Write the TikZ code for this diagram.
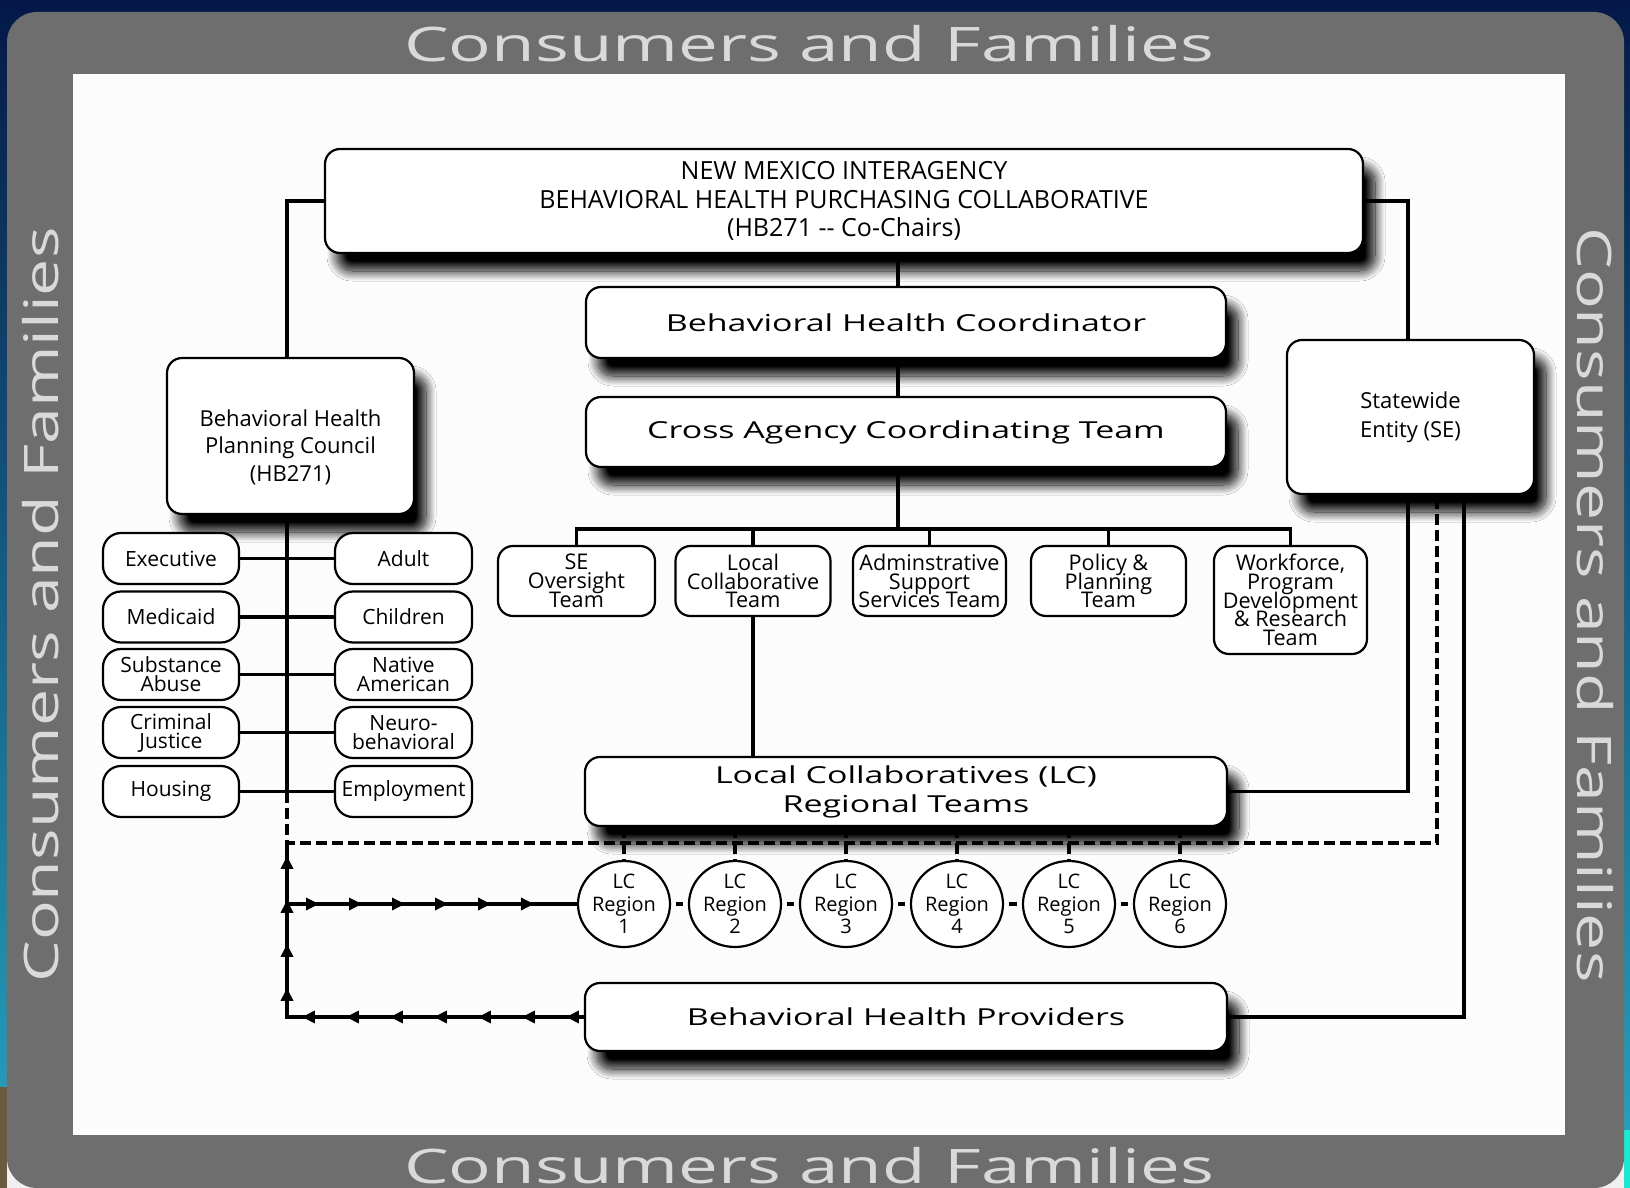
\documentclass[tikz,border=0pt]{standalone}
\usepackage{fontspec}
\setmainfont{Open Sans}
\usetikzlibrary{shapes.geometric,shadows.blur,decorations.markings,arrows.meta}

\definecolor{framegray}{HTML}{6E6E6E}
\definecolor{framelabel}{HTML}{D9D9D9}
\definecolor{paper}{HTML}{FCFCFC}
\definecolor{navytop}{HTML}{041848}
\definecolor{navymid}{HTML}{0A36A0}
\definecolor{teallow}{HTML}{26A6C2}
\definecolor{groundbrown}{HTML}{6B5A3E}
\definecolor{aqua}{HTML}{10F0D0}

% horizontally stretched lettering used for the main titles
\newcommand\widetxt[1]{\scalebox{1.45}[1]{#1}}
% fixed, tight line spacing for stacked labels
\newcommand\tightlines[2]{\fontsize{#1}{#2}\selectfont\lineskiplimit=-20pt\lineskip=0pt}

\begin{document}
\begin{tikzpicture}[x=0.5pt,y=-0.5pt,
  box/.style={draw, line width=1.1pt, fill=white, rounded corners=7.5pt,
    align=center, inner sep=0pt},
  shadowed/.style={blur shadow={shadow xshift=6pt, shadow yshift=-9pt,
    shadow blur radius=5pt, shadow opacity=100, shadow blur steps=20}},
  widefont/.style={font=\tightlines{11.7}{14.5}},
  plain/.style={inner sep=0pt, align=center},
  teambox/.style={box, minimum height=35pt, font=\tightlines{10.8}{9.4}},
  pill/.style={box, rounded corners=9pt, minimum height=25.5pt,
    font=\tightlines{10.5}{9.5}},
  region/.style={draw, line width=1.1pt, fill=white, ellipse, minimum width=46pt,
    minimum height=43pt, inner sep=0pt, align=center,
    font=\tightlines{10}{11.2}},
  framelabel/.style={text=framelabel, inner sep=0pt,
    font=\fontsize{23.8}{24}\selectfont},
  link/.style={line width=1.7pt},
  dashlink/.style={line width=1.7pt, dash pattern=on 5.5pt off 2.5pt},
  flowup/.style={link, postaction=decorate, decoration={markings,
    mark=between positions 9pt and 236pt step 22pt with
      {\arrow{Triangle[length=6.5pt,width=6pt]}}}},
  flowright/.style={link, postaction=decorate, decoration={markings,
    mark=between positions 16pt and 145pt step 21.5pt with
      {\arrow{Triangle[length=6.5pt,width=6pt]}}}},
]
\useasboundingbox (0,0) rectangle (1630,1188);

% slide background
\shade[top color=navytop, middle color=navymid, bottom color=teallow]
  (0,0) rectangle (1630,1188);
\fill[groundbrown] (0,1087) rectangle (7,1188);
\fill[aqua] (1624,1130) rectangle (1630,1188);
\fill[white!94!black] (7,1150) rectangle (1624,1188);

% grey frame and white sheet
\fill[framegray, rounded corners=15pt] (7,12) rectangle (1624,1188);
\fill[paper] (73,74) rectangle (1565,1135);

% frame labels
\node[framelabel, anchor=base] (ftop) at (809,62) {\scalebox{1.49}[1]{Consumers and Families}};
\node[framelabel, anchor=base] (fbot) at (809,1183) {\scalebox{1.49}[1]{Consumers and Families}};
\node[framelabel, anchor=base, rotate=90] (fleft) at (58,605) {\scalebox{1.39}[1]{Consumers and Families}};
\node[framelabel, anchor=base, rotate=-90] (fright) at (1577,605) {\scalebox{1.39}[1]{Consumers and Families}};

% main boxes
\node[box, shadowed, minimum width=519pt, minimum height=52pt,
  font=\tightlines{12.5}{14.25}] (collab) at (844,201)
  {NEW MEXICO INTERAGENCY\\BEHAVIORAL HEALTH PURCHASING COLLABORATIVE\\(HB271 -{}- Co-Chairs)};
\node[box, shadowed, widefont, minimum width=320pt, minimum height=35.5pt] (coord) at (906,322.5)
  {\widetxt{Behavioral Health Coordinator}};
\node[box, shadowed, widefont, minimum width=320pt, minimum height=35pt] (cact) at (906,432)
  {\widetxt{Cross Agency Coordinating Team}};
\node[box, shadowed, minimum width=123.5pt, minimum height=78pt] (council) at (290.5,436) {};
\node[plain, font=\tightlines{11}{13.75}] (councillbl) at ([yshift=-5.5pt]council.center)
  {Behavioral Health\\Planning Council\\(HB271)};
\node[box, shadowed, minimum width=123.5pt, minimum height=77pt,
  font=\tightlines{11}{14.5}] (se) at (1410.5,417)
  {Statewide\\Entity (SE)};
\node[box, shadowed, widefont, minimum width=321pt, minimum height=34.5pt] (lc) at (906,791.5)
  {\widetxt{Local Collaboratives (LC)}\\\widetxt{Regional Teams}};
\node[box, shadowed, widefont, minimum width=321pt, minimum height=34pt] (bhp) at (906,1017)
  {\widetxt{Behavioral Health Providers}};

% teams under the coordinating team
\node[teambox, minimum width=78.5pt] (t1) at (576.5,581) {SE\\Oversight\\Team};
\node[teambox, minimum width=77.5pt] (t2) at (753,581) {Local\\Collaborative\\Team};
\node[teambox, minimum width=76.5pt] (t3) at (929.5,581) {Adminstrative\\Support\\Services Team};
\node[teambox, minimum width=77.5pt] (t4) at (1108.5,581) {Policy \&\\Planning\\Team};
\node[teambox, minimum width=76.5pt, minimum height=54pt] (t5) at (1290.5,600)
  {Workforce,\\Program\\Development\\\& Research\\Team};

% council member pills
\foreach \n/\y/\l/\r in {1/558.5/Executive/Adult,
                         2/617/Medicaid/Children,
                         3/674.5/Substance\\Abuse/Native\\American,
                         4/732.5/Criminal\\Justice/Neuro-\\behavioral,
                         5/791.5/Housing/Employment}{
  \node[pill, minimum width=68pt] (p\n l) at (171,\y) {\l};
  \node[pill, minimum width=68.5pt] (p\n r) at (403.5,\y) {\r};
}

% regional collaboratives
\foreach \i/\x in {1/624,2/735,3/846,4/957,5/1069,6/1180}
  \node[region] (r\i) at (\x,904) {LC\\Region\\\i};

% routing guides
\coordinate (spine) at (898,0);
\coordinate (busy) at (0,529);
\coordinate (lft) at (287,0);
\coordinate (dashy) at (0,843);
\coordinate (s1) at (1408,0);
\coordinate (s2) at (1437,0);
\coordinate (s3) at (1464,0);

% hierarchy connectors
\draw[link] (collab.west) -| (lft |- council.north);
\draw[link] (collab.east) -| (s1 |- se.north);
\draw[link] (spine |- collab.south) -- (spine |- coord.north);
\draw[link] (spine |- coord.south) -- (spine |- cact.north);
\draw[link] (spine |- cact.south) -- (spine |- busy);
\draw[link] (t1.north) |- (t5.north |- busy) -- (t5.north);
\foreach \i in {2,3,4}
  \draw[link] (t\i.north) -- (t\i.north |- busy);
\draw[link] (t2.south) -- (t2.south |- lc.north);

% council members
\draw[link] (lft |- council.south) -- (lft |- p5l);
\foreach \n in {1,...,5}
  \draw[link] (p\n l.east) -- (p\n r.west);

% statewide entity links
\draw[link] (s1 |- se.south) |- (lc.east);
\draw[link] (s3 |- se.south) |- (bhp.east);
\draw[dashlink] (lft |- p5l) -- (lft |- dashy) -| (s2 |- se.south);

% regional links
\foreach \i in {1,...,6}
  \draw[dashlink] (r\i.north |- lc.south) -- (r\i.north);
\foreach \i/\j in {1/2,2/3,3/4,4/5,5/6}
  \draw[link, shorten <=2.5pt, shorten >=2.5pt] (r\i.east) -- (r\j.west);

% provider feedback loop
\draw[flowup] (bhp.west) -- (lft |- bhp.west) -- (lft |- dashy);
\draw[flowright] (lft |- r1.west) -- (r1.west);
\end{tikzpicture}
\end{document}
